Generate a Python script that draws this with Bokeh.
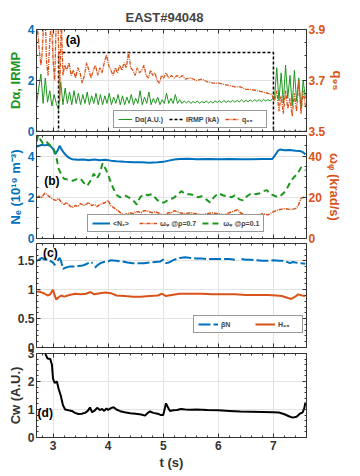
import numpy as np
from bokeh.plotting import figure
from bokeh.models import (Range1d, LinearAxis, FixedTicker, Legend,
                          LegendItem, Label, CustomJSTickFormatter)
from bokeh.layouts import column
from bokeh.embed import file_html
from bokeh.resources import INLINE

# ---------------- data ----------------
TITLE = "EAST#94048"

# (a) D_alpha sampled every 0.04 s from 2.70 s
da_t0 = 2.70
da_dt = 0.04
da_vals = [1.05, 1.7, 2.25, 1.1, 2.1, 1.15, 1.6, 1.0, 1.45, 1.1,
           0.85, 1.95, 1.05, 1.7, 1.1, 1.55, 1.05, 1.6, 1.1, 1.5,
           1.05, 1.45, 1.1, 1.55, 1.05, 1.4, 1.1, 1.5, 1.05, 1.45,
           1.05, 1.4, 1.1, 1.5, 1.05, 1.35, 1.1, 1.45, 1.05, 1.4,
           1.05, 1.35, 1.1, 1.45, 1.05, 1.3, 1.1, 1.6, 1.05, 1.35,
           1.1, 1.55, 1.05, 1.3, 1.1, 1.35, 1.05, 1.25, 1.1, 1.5,
           1.1, 1.3, 1.1, 1.45, 1.1, 1.25, 1.1, 1.2, 1.12, 1.2,
           1.1, 1.18, 1.12, 1.2, 1.1, 1.18, 1.12, 1.2, 1.12, 1.18,
           1.12, 1.2, 1.14, 1.2, 1.13, 1.22, 1.14, 1.2, 1.15, 1.22,
           1.15, 1.22, 1.16, 1.24, 1.16, 1.22, 1.17, 1.24, 1.17, 1.25,
           1.18, 1.25, 1.18, 1.26, 1.19, 1.25, 1.2, 1.27, 1.3, 2.5,
           1.2, 2.3, 1.1, 2.6, 1.3, 2.2, 1.0, 2.4, 1.2, 2.1,
           0.9, 2.0, 1.3]

irmp_t = [2.70, 3.10, 3.10, 7.00, 7.00, 7.60]
irmp_v = [0.0, 0.0, 3.1, 3.1, 0.0, 0.0]

q95_t = [2.70, 2.72, 2.75, 2.78, 2.80, 2.83, 2.86, 2.88, 2.91, 2.94, 2.97, 3.00, 3.03, 3.06,
         3.09, 3.12, 3.15, 3.18, 3.21, 3.25, 3.29, 3.33, 3.37, 3.41, 3.45, 3.49, 3.53, 3.57,
         3.61, 3.65, 3.69, 3.73, 3.77, 3.81, 3.85, 3.89, 3.93, 3.97, 4.01, 4.05, 4.09, 4.13,
         4.17, 4.21, 4.25, 4.29, 4.33, 4.37, 4.41, 4.45, 4.49, 4.53, 4.57, 4.61, 4.65, 4.69,
         4.73, 4.77, 4.81, 4.85, 4.89, 4.93, 4.97, 5.01, 5.05, 5.10, 5.15, 5.20, 5.25, 5.30,
         5.35, 5.40, 5.50, 5.60, 5.70, 5.80, 5.90, 6.00, 6.10, 6.20, 6.30, 6.40, 6.50, 6.60,
         6.70, 6.80, 6.90, 6.97, 7.02, 7.06, 7.10, 7.14, 7.18, 7.22, 7.26, 7.30, 7.34, 7.38,
         7.42, 7.46, 7.50, 7.54, 7.58]
q95_v = [3.88, 3.90, 3.82, 3.76, 3.80, 3.92, 3.95, 3.78, 3.72, 3.85, 3.95, 3.78, 3.70, 3.95,
         3.95, 3.62, 3.95, 3.72, 3.76, 3.74, 3.77, 3.72, 3.74, 3.71, 3.75, 3.73, 3.69, 3.72,
         3.77, 3.74, 3.71, 3.74, 3.76, 3.72, 3.75, 3.73, 3.77, 3.80, 3.76, 3.74, 3.72, 3.75,
         3.73, 3.76, 3.74, 3.77, 3.75, 3.81, 3.75, 3.74, 3.72, 3.75, 3.73, 3.74, 3.76, 3.72,
         3.71, 3.74, 3.72, 3.73, 3.70, 3.69, 3.72, 3.71, 3.73, 3.71, 3.72, 3.71, 3.72, 3.71,
         3.72, 3.705, 3.71, 3.70, 3.705, 3.695, 3.69, 3.69, 3.685, 3.68, 3.675, 3.675, 3.665, 3.665,
         3.66, 3.655, 3.65, 3.645, 3.62, 3.66, 3.58, 3.64, 3.57, 3.66, 3.59, 3.63, 3.56, 3.65,
         3.58, 3.70, 3.57, 3.66, 3.60]

# (b)
ne_t = [2.70, 2.75, 2.80, 2.85, 2.90, 2.95, 3.00, 3.04, 3.08, 3.12, 3.16, 3.20, 3.25, 3.30,
        3.35, 3.45, 3.55, 3.65, 3.75, 3.85, 3.95, 4.05, 4.15, 4.30, 4.45, 4.60, 4.75, 4.90,
        5.00, 5.10, 5.20, 5.30, 5.45, 5.60, 5.80, 6.00, 6.20, 6.40, 6.60, 6.80, 6.98, 7.03,
        7.08, 7.12, 7.20, 7.30, 7.40, 7.48, 7.54, 7.58]
ne_v = [4.45, 4.50, 4.55, 4.52, 4.55, 4.50, 4.35, 4.10, 4.25, 4.50, 4.30, 4.15, 4.00, 3.90,
        3.85, 3.82, 3.83, 3.80, 3.83, 3.80, 3.82, 3.78, 3.75, 3.72, 3.70, 3.70, 3.68, 3.70,
        3.72, 3.78, 3.83, 3.86, 3.87, 3.85, 3.86, 3.85, 3.86, 3.85, 3.85, 3.86, 3.86, 4.05,
        4.25, 4.32, 4.28, 4.30, 4.26, 4.25, 4.18, 4.08]

w01_t = [2.70, 2.73, 2.77, 2.82, 2.88, 2.95, 3.00, 3.05, 3.10, 3.15, 3.20, 3.28, 3.36, 3.44,
         3.50, 3.56, 3.62, 3.68, 3.74, 3.79, 3.84, 3.90, 3.95, 4.00, 4.05, 4.10, 4.16, 4.22,
         4.30, 4.37, 4.44, 4.52, 4.58, 4.65, 4.72, 4.80, 4.88, 4.95, 5.02, 5.10, 5.18, 5.25,
         5.33, 5.40, 5.48, 5.56, 5.63, 5.70, 5.78, 5.85, 5.92, 6.00, 6.08, 6.16, 6.24, 6.30,
         6.38, 6.45, 6.52, 6.60, 6.68, 6.75, 6.82, 6.88, 6.94, 7.00, 7.08, 7.14, 7.20, 7.26,
         7.32, 7.38, 7.44, 7.50, 7.56, 7.58]
w01_v = [47, 50, 48, 46, 47, 45, 44, 41, 34, 31, 29, 28.5, 28, 29,
         29, 27, 25.5, 28, 31.5, 29, 31, 36.5, 34, 31, 27, 24, 21, 20,
         21, 20, 19, 16.5, 20, 21.5, 21, 21.5, 19, 17.5, 17.5, 19, 19.5, 21,
         23, 21.5, 21.5, 21, 20, 20.5, 19, 17.5, 20, 22, 21, 20.5, 20, 21,
         19, 18.5, 20.5, 22, 21.5, 22, 23, 23.5, 21.5, 21, 20, 21, 22.5, 25,
         28, 30, 31.5, 34.5, 33.5, 33]

w07_t = [2.70, 2.75, 2.80, 2.85, 2.90, 2.95, 3.00, 3.05, 3.10, 3.15, 3.20, 3.25, 3.30, 3.35,
         3.40, 3.45, 3.50, 3.55, 3.60, 3.65, 3.70, 3.75, 3.80, 3.85, 3.90, 3.95, 4.00, 4.05,
         4.10, 4.15, 4.20, 4.25, 4.30, 4.35, 4.40, 4.45, 4.50, 4.55, 4.60, 4.65, 4.70, 4.75,
         4.80, 4.85, 4.90, 4.95, 5.00, 5.05, 5.10, 5.15, 5.20, 5.30, 5.40, 5.50, 5.60, 5.70,
         5.80, 5.90, 6.00, 6.10, 6.20, 6.30, 6.35, 6.40, 6.50, 6.60, 6.70, 6.80, 6.90, 7.00,
         7.10, 7.20, 7.30, 7.40, 7.45, 7.50, 7.55, 7.58]
w07_v = [20, 20.5, 20, 22, 21, 20, 19, 18.5, 19.5, 17.5, 16.5, 17.5, 16, 15,
         16, 15.5, 17, 16, 16.5, 17.5, 16, 16.5, 15.5, 16.5, 17, 17.5, 18.5, 16,
         15, 14, 13, 12, 11.5, 12, 12.5, 12, 13, 13, 12.5, 13.5, 13.5, 13,
         12.5, 13, 12.5, 12, 10.5, 12, 12.5, 12.5, 13.5, 12.5, 12, 12.5, 12, 11.5,
         12, 12.5, 12, 11.5, 12.5, 13.5, 14, 12.5, 11, 11.5, 11, 12, 11.5, 13,
         14, 14.5, 14, 14.5, 16, 19.5, 20, 20]

# (c)  (nan = gap in the trace)
NAN = float("nan")
bn_t = [2.70, 2.75, 2.80, 2.85, 2.90, 2.95, 3.00, 3.04, 3.06, 3.08, 3.12, 3.15, 3.18, 3.22,
        3.30, 3.38, 3.46, 3.54, 3.62, 3.68, 3.72, 3.74, 3.76, 3.80, 3.86, 3.92, 4.00, 4.05,
        4.15, 4.25, 4.35, 4.45, 4.55, 4.65, 4.75, 4.85, 4.95, 5.00, 5.05, 5.10, 5.20, 5.30,
        5.40, 5.50, 5.60, 5.70, 5.80, 5.90, 6.00, 6.10, 6.20, 6.30, 6.35, 6.42, 6.50, 6.60,
        6.70, 6.80, 6.90, 7.00, 7.10, 7.20, 7.30, 7.35, 7.40, 7.50, 7.58]
bn_v = [1.50, 1.52, 1.55, 1.52, 1.53, 1.50, 1.47, 1.42, NAN, 1.50, 1.55, 1.48, 1.36, 1.38,
        1.40, 1.40, 1.41, 1.42, 1.45, 1.48, 1.46, NAN, 1.38, 1.42, 1.46, 1.48, 1.49, 1.51,
        1.50, 1.49, 1.47, 1.46, 1.46, 1.46, 1.47, 1.48, 1.49, 1.52, 1.46, 1.47, 1.52, 1.55,
        1.56, 1.55, 1.54, 1.54, 1.53, 1.53, 1.53, 1.53, 1.53, 1.52, NAN, 1.53, 1.52, 1.52,
        1.51, 1.50, 1.50, 1.51, 1.50, 1.50, 1.46, 1.48, 1.47, 1.46, 1.45]

h98_t = [2.70, 2.75, 2.80, 2.85, 2.90, 2.95, 3.00, 3.03, 3.06, 3.10, 3.15, 3.20, 3.30, 3.40,
         3.50, 3.60, 3.68, 3.75, 3.85, 3.95, 4.05, 4.15, 4.30, 4.45, 4.60, 4.75, 4.90, 4.98,
         5.05, 5.15, 5.30, 5.50, 5.70, 5.90, 6.10, 6.30, 6.50, 6.70, 6.90, 7.05, 7.15, 7.25,
         7.32, 7.38, 7.45, 7.52, 7.58]
h98_v = [0.96, 0.97, 0.95, 0.93, 0.90, 0.92, 1.00, 0.90, 0.83, 0.87, 0.90, 0.88, 0.91, 0.93,
         0.92, 0.93, 0.96, 0.92, 0.94, 0.95, 0.94, 0.90, 0.89, 0.88, 0.88, 0.89, 0.90, 0.93,
         0.89, 0.91, 0.93, 0.93, 0.93, 0.92, 0.92, 0.92, 0.91, 0.91, 0.91, 0.90, 0.89, 0.86,
         0.84, 0.87, 0.92, 0.90, 0.89]

# (d)
cw_t = [2.78, 2.84, 2.87, 2.90, 2.95, 2.98, 3.00, 3.03, 3.07, 3.10, 3.14, 3.18, 3.22, 3.28,
        3.34, 3.40, 3.46, 3.52, 3.58, 3.63, 3.67, 3.71, 3.76, 3.80, 3.85, 3.89, 3.93, 3.97,
        4.00, 4.05, 4.10, 4.15, 4.22, 4.30, 4.40, 4.50, 4.60, 4.67, 4.72, 4.76, 4.82, 4.90,
        4.96, 5.00, 5.03, 5.05, 5.08, 5.12, 5.18, 5.25, 5.32, 5.40, 5.50, 5.60, 5.80, 6.00,
        6.20, 6.40, 6.60, 6.80, 7.00, 7.10, 7.20, 7.28, 7.35, 7.42, 7.48, 7.53, 7.56, 7.58]
cw_v = [3.5, 3.1, 2.95, 2.82, 2.80, 2.60, 2.10, 1.95, 2.00, 1.75, 1.50, 1.15, 1.00, 0.97,
        0.95, 0.88, 0.84, 0.85, 0.88, 0.95, 1.07, 0.90, 0.97, 1.06, 0.98, 1.02, 0.95, 1.04,
        0.98, 1.05, 1.08, 1.00, 0.94, 0.90, 0.87, 0.85, 0.82, 0.78, 0.88, 0.93, 0.88, 0.85,
        0.80, 0.80, 1.05, 1.22, 1.10, 0.95, 0.97, 0.98, 1.02, 1.00, 0.99, 1.00, 0.98, 0.97,
        0.95, 0.93, 0.92, 0.91, 0.90, 0.89, 0.83, 0.76, 0.71, 0.74, 0.85, 0.90, 1.05, 1.25]

x_ticks = [3, 4, 5, 6, 7]
x_minor = [2.8, 3.2, 3.4, 3.6, 3.8, 4.2, 4.4, 4.6, 4.8, 5.2, 5.4, 5.6, 5.8,
           6.2, 6.4, 6.6, 6.8, 7.2, 7.4]
a_left_ticks = [0, 2, 4]
a_right_ticks = [3.5, 3.7, 3.9]
b_left_ticks = [0, 2, 4]
b_right_ticks = [0, 20, 40]
c_ticks = [0, 0.5, 1, 1.5]
d_ticks = [0, 1, 2, 3]

# ---------------- style ----------------
BLUE = "#0072BD"
ORANGE = "#D95319"
GREEN = "#1E961E"
DARK = "#333333"
FONT = "Liberation Sans"
X0, X1 = 2.7, 7.6
W = 352
BL, BR = 36, 46


def style_axis(ax, label_color=DARK, labels=True):
    ax.axis_line_color = DARK
    ax.major_tick_line_color = DARK
    ax.minor_tick_line_color = DARK
    ax.major_tick_in = 4
    ax.major_tick_out = 0
    ax.minor_tick_in = 2
    ax.minor_tick_out = 0
    ax.major_label_text_font = FONT
    ax.major_label_text_font_style = "bold"
    ax.major_label_text_font_size = "12px"
    ax.major_label_text_color = label_color
    ax.major_label_standoff = 2
    ax.axis_label_text_font = FONT
    ax.axis_label_text_font_style = "bold"
    ax.axis_label_text_font_size = "13px"
    ax.axis_label_text_color = label_color
    ax.axis_label_standoff = 2
    if not labels:
        ax.formatter = CustomJSTickFormatter(code="return ''")
        ax.major_label_text_font_size = "0px"
        ax.major_label_standoff = 0


def make_fig(y0, y1, h, top, bottom, margin_top, xlabels=False):
    p = figure(width=W, height=h, x_range=Range1d(X0, X1),
               y_range=Range1d(y0, y1), output_backend="svg", toolbar_location=None,
               min_border_left=BL, min_border_right=BR, min_border_top=top,
               min_border_bottom=bottom)
    p.margin = (margin_top, 0, 0, 0)
    p.outline_line_color = DARK
    p.background_fill_alpha = 0
    p.border_fill_alpha = 0
    xt = FixedTicker(ticks=x_ticks, minor_ticks=x_minor)
    bottom_ax = p.below[0]
    bottom_ax.ticker = xt
    style_axis(bottom_ax, labels=xlabels)
    top_ax = LinearAxis(ticker=xt)
    style_axis(top_ax, labels=False)
    p.add_layout(top_ax, "above")
    p.xgrid.grid_line_color = "#e3e3e3"
    p.ygrid.grid_line_color = "#e3e3e3"
    return p, bottom_ax


def label(p, x, y, txt):
    p.add_layout(Label(x=x, y=y, text=txt, text_font=FONT, text_font_style="bold",
                       text_font_size="12px", text_color="black", text_baseline="middle"))


def legend(p, items, loc, spacing=6, glyph_w=16):
    lg = Legend(items=[LegendItem(label=l, renderers=[r]) for l, r in items],
                location=loc, orientation="horizontal", label_text_font=FONT,
                label_text_font_size="7px", label_text_font_style="bold",
                label_height=8, glyph_height=8, glyph_width=glyph_w, label_standoff=3,
                spacing=spacing, padding=4, margin=0, border_line_color=DARK,
                border_line_width=1, background_fill_color="white", background_fill_alpha=1)
    p.add_layout(lg)


# ---- panel (a): frame y 29..131
pa, _ = make_fig(0, 4, 141, 29, 10, 0)
pa.border_fill_alpha = 1
pa.border_fill_color = "white"
pa.title.text = TITLE
pa.title.align = "left"
pa.title.offset = 89
pa.title.text_font = FONT
pa.title.text_font_size = "13px"
pa.title.text_font_style = "bold"
pa.title.standoff = 9
pa.yaxis.ticker = FixedTicker(ticks=a_left_ticks, minor_ticks=[0.5, 1, 1.5, 2.5, 3, 3.5])
style_axis(pa.yaxis[0], label_color=BLUE)
pa.yaxis[0].axis_label = "Dα, IRMP"
pa.yaxis[0].axis_label_text_color = GREEN
pa.extra_y_ranges = {"q": Range1d(3.5, 3.9)}
ra = LinearAxis(y_range_name="q", ticker=FixedTicker(ticks=a_right_ticks,
                minor_ticks=[3.55, 3.6, 3.65, 3.75, 3.8, 3.85]), axis_label="q₉₅")
style_axis(ra, label_color=ORANGE)
pa.add_layout(ra, "right")
da_t = [round(da_t0 + da_dt * i, 2) for i in range(len(da_vals))]
r_da = pa.line(da_t, da_vals, color=GREEN, line_width=1)
r_ir = pa.line(irmp_t, irmp_v, color="black", line_width=1.5, line_dash="3 2")
r_q = pa.line(q95_t, q95_v, color=ORANGE, line_width=1.3, line_dash="4 1 1 1", y_range_name="q")
legend(pa, [("Dα(A.U.)", r_da), ("IRMP (kA)", r_ir), ("q₉₅", r_q)], (77, 3), spacing=6, glyph_w=14)
label(pa, 3.23, 3.57, "(a)")

# ---- panel (b): frame y 135..238
pb, _ = make_fig(0, 5, 123, 10, 10, -16)
pb.yaxis.ticker = FixedTicker(ticks=b_left_ticks, minor_ticks=[0.5, 1, 1.5, 2.5, 3, 3.5, 4.5])
style_axis(pb.yaxis[0], label_color=BLUE)
pb.yaxis[0].axis_label = "Nₑ (10¹⁹ m⁻³)"
pb.extra_y_ranges = {"w": Range1d(0, 50)}
rb = LinearAxis(y_range_name="w", ticker=FixedTicker(ticks=b_right_ticks,
                minor_ticks=[5, 10, 15, 25, 30, 35, 45]), axis_label="ωᵩ (krad/s)")
style_axis(rb, label_color=ORANGE)
pb.add_layout(rb, "right")
r_ne = pb.line(ne_t, ne_v, color=BLUE, line_width=2)
r_w7 = pb.line(w07_t, w07_v, color=ORANGE, line_width=1.5, line_dash="4 1 1 1", y_range_name="w")
r_w1 = pb.line(w01_t, w01_v, color=GREEN, line_width=2, line_dash="6 4", y_range_name="w")
legend(pb, [("<Nₑ>", r_ne), ("ωᵩ @ρ=0.7", r_w7), ("ωᵩ @ρ=0.1", r_w1)], (51, 6), spacing=6, glyph_w=18)
label(pb, 2.84, 2.8, "(b)")

# ---- panel (c): frame y 243..347
pc, _ = make_fig(0, 1.8, 124, 10, 10, -15)
pc.yaxis.ticker = FixedTicker(ticks=c_ticks,
                              minor_ticks=[0.1, 0.2, 0.3, 0.4, 0.6, 0.7, 0.8, 0.9, 1.1, 1.2, 1.3, 1.4, 1.6, 1.7])
style_axis(pc.yaxis[0])
rc = LinearAxis(ticker=pc.yaxis[0].ticker)
style_axis(rc, labels=False)
pc.add_layout(rc, "right")
r_bn = pc.line(bn_t, bn_v, color=BLUE, line_width=2, line_dash="12 3")
r_h = pc.line(h98_t, h98_v, color=ORANGE, line_width=2)
legend(pc, [("βN", r_bn), ("H₉₈", r_h)], (157, 14), spacing=14, glyph_w=20)
label(pc, 2.82, 1.63, "(c)")

# ---- panel (d): frame y 353..437
pd_, xb = make_fig(0, 3, 131, 10, 37, -14, xlabels=True)
xb.axis_label = "t (s)"
xb.major_label_standoff = 3
pd_.yaxis.ticker = FixedTicker(ticks=d_ticks,
                               minor_ticks=[0.2, 0.4, 0.6, 0.8, 1.2, 1.4, 1.6, 1.8, 2.2, 2.4, 2.6, 2.8])
style_axis(pd_.yaxis[0])
pd_.yaxis[0].axis_label = "Cw (A.U.)"
rd = LinearAxis(ticker=pd_.yaxis[0].ticker)
style_axis(rd, labels=False)
pd_.add_layout(rd, "right")
pd_.line(cw_t, cw_v, color="black", line_width=2)
label(pd_, 2.72, 0.86, "(d)")

layout = column(pa, pb, pc, pd_, spacing=0)
open("out.html", "w").write(file_html(layout, INLINE))
